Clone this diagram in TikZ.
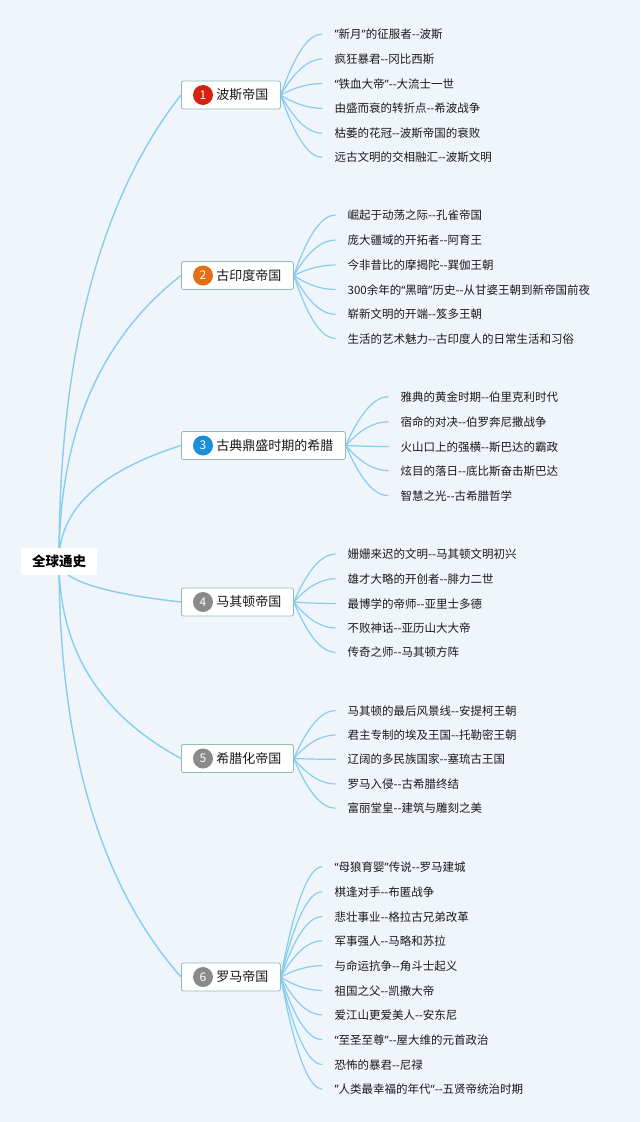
\documentclass[tikz,border=0pt]{standalone}
\usepackage{fontspec}
\setmainfont{Noto Sans CJK SC}
\newfontfamily\qfont{Noto Sans}
\usetikzlibrary{calc}
\pgfdeclarelayer{bg}
\pgfdeclarelayer{edges}
\pgfsetlayers{bg,edges,main}
\definecolor{bgc}{RGB}{239,245,251}
\definecolor{linec}{RGB}{135,205,240}
\definecolor{boxc}{RGB}{145,190,178}
\definecolor{txt}{RGB}{25,25,25}
\definecolor{cA}{RGB}{214,35,16}
\definecolor{cB}{RGB}{228,110,20}
\definecolor{cC}{RGB}{26,143,217}
\definecolor{cD}{RGB}{138,138,138}
\newcommand\dsh{-\kern0pt-}
\newcommand\qo{{\qfont “}}
\newcommand\qc{{\qfont ”}}
\newcommand\mkbranch[5]{%
  \node[branchbox] (#1) at (181,#2) {\hspace*{23pt}#5};
  \node[numdot=#3] (#1n) at ($(#1.west)+(22,0)$) {#4};
  \begin{pgfonlayer}{edges}
  \draw[rootconn] let \p1=(root.center), \p2=(#1.west) in
    (\p1) .. controls (\x1,{\y1+4/9*(\y2-\y1)}) and ({(\x2+2*\x1)/3},{\y2-2/9*(\y2-\y1)}) .. (\p2);
  \end{pgfonlayer}
}
\newcommand\mkleaf[5]{%
  \node[leafnode] (#2) at (#3-12,#4) {#5};
  \begin{pgfonlayer}{edges}
  \draw[leafconn] let \p1=(#1.east), \p2=(#2.west) in
    (\p1) .. controls ({(2*\x1+\x2)/3},{(\y1+2*\y2)/3}) and ({(\x1+2*\x2)/3},\y2) .. (\p2);
  \end{pgfonlayer}
}
\begin{document}
\begin{tikzpicture}[x=1pt,y=-1pt,
  rootbox/.style={fill=white, minimum width=76pt, minimum height=27pt, inner sep=0pt,
    font=\fontsize{13.5}{16}\selectfont\bfseries, text=black},
  branchbox/.style={draw=boxc, line width=0.8pt, fill=white, rounded corners=2pt, anchor=west,
    minimum height=28pt, inner xsep=12pt, inner ysep=0pt, font=\fontsize{13}{15}\selectfont, text=txt},
  numdot/.style={circle, fill=#1, minimum size=20pt, inner sep=0pt, text=white,
    font=\fontsize{12}{14}\selectfont},
  leafnode/.style={anchor=west, inner xsep=12pt, inner ysep=0pt, text height=10pt, text depth=1pt,
    font=\fontsize{11.5}{14}\selectfont, text=txt},
  rootconn/.style={draw=linec, line width=1.4pt},
  leafconn/.style={draw=linec, line width=1.2pt},
]
\useasboundingbox (0,0) rectangle (640,1122);
\begin{pgfonlayer}{bg}
\fill[bgc] (0,0) rectangle (640,1122);
\end{pgfonlayer}

\node[rootbox] (root) at (59,561) {全球通史};

\mkbranch{b1}{95}{cA}{1}{波斯帝国}
\mkbranch{b2}{275.5}{cB}{2}{古印度帝国}
\mkbranch{b3}{445.5}{cC}{3}{古典鼎盛时期的希腊}
\mkbranch{b4}{602}{cD}{4}{马其顿帝国}
\mkbranch{b5}{758.5}{cD}{5}{希腊化帝国}
\mkbranch{b6}{977}{cD}{6}{罗马帝国}

\mkleaf{b1}{l11}{334.3}{34}{\qc 新月\qc 的征服者\dsh 波斯}
\mkleaf{b1}{l12}{334.3}{59}{疯狂暴君\dsh 冈比西斯}
\mkleaf{b1}{l13}{334.3}{83.5}{\qo 铁血大帝\qc\dsh 大流士一世}
\mkleaf{b1}{l14}{334.3}{108.3}{由盛而衰的转折点\dsh 希波战争}
\mkleaf{b1}{l15}{334.3}{133.3}{枯萎的花冠\dsh 波斯帝国的衰败}
\mkleaf{b1}{l16}{334.3}{157.3}{远古文明的交相融汇\dsh 波斯文明}

\mkleaf{b2}{l21}{347.5}{215}{崛起于动荡之际\dsh 孔雀帝国}
\mkleaf{b2}{l22}{347.5}{240}{庞大疆域的开拓者\dsh 阿育王}
\mkleaf{b2}{l23}{347.5}{265}{今非昔比的摩揭陀\dsh 巽伽王朝}
\mkleaf{b2}{l24}{347.5}{289.5}{300余年的\qo 黑暗\qc 历史\dsh 从甘婆王朝到新帝国前夜}
\mkleaf{b2}{l25}{347.5}{314.3}{崭新文明的开端\dsh 笈多王朝}
\mkleaf{b2}{l26}{347.5}{338.5}{生活的艺术魅力\dsh 古印度人的日常生活和习俗}

\mkleaf{b3}{l31}{400.5}{396.7}{雅典的黄金时期\dsh 伯里克利时代}
\mkleaf{b3}{l32}{400.5}{421.7}{宿命的对决\dsh 伯罗奔尼撒战争}
\mkleaf{b3}{l33}{400.5}{446.5}{火山口上的强横\dsh 斯巴达的霸政}
\mkleaf{b3}{l34}{400.5}{470.7}{炫目的落日\dsh 底比斯奋击斯巴达}
\mkleaf{b3}{l35}{400.5}{495.7}{智慧之光\dsh 古希腊哲学}

\mkleaf{b4}{l41}{347.5}{554}{姗姗来迟的文明\dsh 马其顿文明初兴}
\mkleaf{b4}{l42}{347.5}{578.7}{雄才大略的开创者\dsh 腓力二世}
\mkleaf{b4}{l43}{347.5}{603.5}{最博学的帝师\dsh 亚里士多德}
\mkleaf{b4}{l44}{347.5}{628}{不败神话\dsh 亚历山大大帝}
\mkleaf{b4}{l45}{347.5}{652.3}{传奇之师\dsh 马其顿方阵}

\mkleaf{b5}{l51}{347.5}{710.5}{马其顿的最后风景线\dsh 安提柯王朝}
\mkleaf{b5}{l52}{347.5}{735}{君主专制的埃及王国\dsh 托勒密王朝}
\mkleaf{b5}{l53}{347.5}{759.3}{辽阔的多民族国家\dsh 塞琉古王国}
\mkleaf{b5}{l54}{347.5}{784}{罗马入侵\dsh 古希腊终结}
\mkleaf{b5}{l55}{347.5}{808.3}{富丽堂皇\dsh 建筑与雕刻之美}

\mkleaf{b6}{l61}{334.3}{866.7}{\qo 母狼育婴\qc 传说\dsh 罗马建城}
\mkleaf{b6}{l62}{334.3}{891.7}{棋逢对手\dsh 布匿战争}
\mkleaf{b6}{l63}{334.3}{916.5}{悲壮事业\dsh 格拉古兄弟改革}
\mkleaf{b6}{l64}{334.3}{940.7}{军事强人\dsh 马略和苏拉}
\mkleaf{b6}{l65}{334.3}{965.7}{与命运抗争\dsh 角斗士起义}
\mkleaf{b6}{l66}{334.3}{990.5}{祖国之父\dsh 凯撒大帝}
\mkleaf{b6}{l67}{334.3}{1015}{爱江山更爱美人\dsh 安东尼}
\mkleaf{b6}{l68}{334.3}{1039.7}{\qo 至圣至尊\qc\dsh 屋大维的元首政治}
\mkleaf{b6}{l69}{334.3}{1064.5}{恐怖的暴君\dsh 尼禄}
\mkleaf{b6}{l6a}{334.3}{1089}{\qc 人类最幸福的年代\qo\dsh 五贤帝统治时期}
\end{tikzpicture}
\end{document}
